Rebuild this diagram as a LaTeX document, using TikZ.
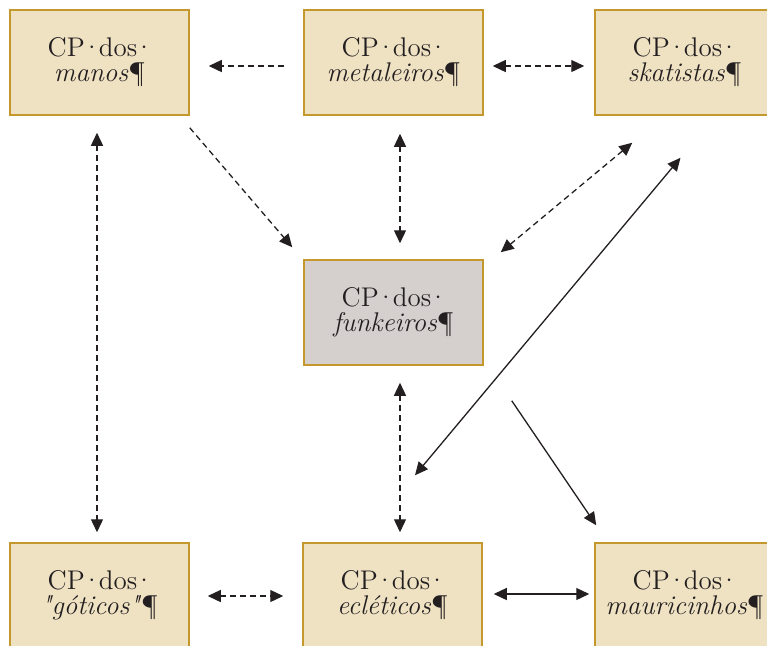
\documentclass[tikz,border=0pt]{standalone}
\usepackage{tikz}
\usetikzlibrary{arrows.meta}
\usetikzlibrary{calc}
\definecolor{sand}{RGB}{239,226,195}
\definecolor{ochre}{RGB}{196,152,44}
\definecolor{ash}{RGB}{213,208,206}
\definecolor{ink}{RGB}{35,31,32}
\tikzset{cp/.style={draw=ochre, line width=0.75pt, fill=sand, minimum width=89.5pt, minimum height=52.5pt, inner sep=0pt, align=center, text=ink, font=\fontsize{13.5}{12.5}\selectfont}}
\tikzset{fk/.style={cp, fill=ash}}
\tikzset{ln/.style={draw=ink, line width=0.65pt, >={Triangle[length=6.5pt,width=6pt]}}}
\tikzset{dsh/.style={ln, dash pattern=on 3pt off 2pt}}
\newcommand{\md}{\kern-0.12em·\kern-0.12em}
\newcommand{\cpl}[1]{CP\md dos\md\\\textit{#1}¶}

\begin{document}
\begin{tikzpicture}[x=0.5pt, y=-0.5pt]
    \useasboundingbox (0,0) rectangle (767,645);
    \clip (0,0) rectangle (767,645);
    \node[cp] (manos) at (99.5,62.5) {\cpl{manos}};
    \node[cp] (metal) at (393.5,62.5) {\cpl{metaleiros}};
    \node[cp] (skate) at (684.5,62.5) {\cpl{skatistas}};
    \node[fk] (funk) at (393.5,312.5) {\cpl{funkeiros}};
    \node[cp] (gotic) at (99.5,595.5) {\cpl{\textquotedbl góticos\textquotedbl}};
    \node[cp] (eclet) at (392.5,595.5) {\cpl{ecléticos}};
    \node[cp] (mauri) at (684.5,595.5) {\cpl{mauricinhos}};
    % top row
    \draw[dsh, ->] ($(metal.west)+(-19,3.5)$) -- ($(manos.east)+(19,3.5)$);
    \draw[dsh, <->] ($(metal.east)+(9,3.5)$) -- ($(skate.west)+(-10,3.5)$);
    % into the middle
    \draw[dsh, <->] ($(manos.south)+(-2.5,17)$) -- ($(gotic.north)+(-2.5,-10)$);
    \draw[dsh, ->] ($(manos.south east)+(0,12)$) -- ($(funk.north west)+(-11,-12)$);
    \draw[dsh, <->] ($(metal.south)+(6.5,18)$) -- ($(funk.north)+(6.5,-16)$);
    \draw[dsh, <->] ($(skate.south west)+(38,27)$) -- ($(funk.north east)+(17,-7)$);
    \draw[ln, <->] ($(skate.south)+(-4,42)$) -- ($(eclet.north)+(22.5,-67)$);
    \draw[ln, ->] ($(funk.south east)+(28,35)$) -- ($(mauri.north west)+(2,-17)$);
    \draw[dsh, <->] ($(funk.south)+(6.5,17)$) -- ($(eclet.north)+(7.5,-10)$);
    % bottom row
    \draw[dsh, <->] ($(gotic.east)+(18,0.5)$) -- ($(eclet.west)+(-19,0.5)$);
    \draw[ln, <->] ($(eclet.east)+(11,-1.5)$) -- ($(mauri.west)+(-5,-1.5)$);
\end{tikzpicture}
\end{document}
